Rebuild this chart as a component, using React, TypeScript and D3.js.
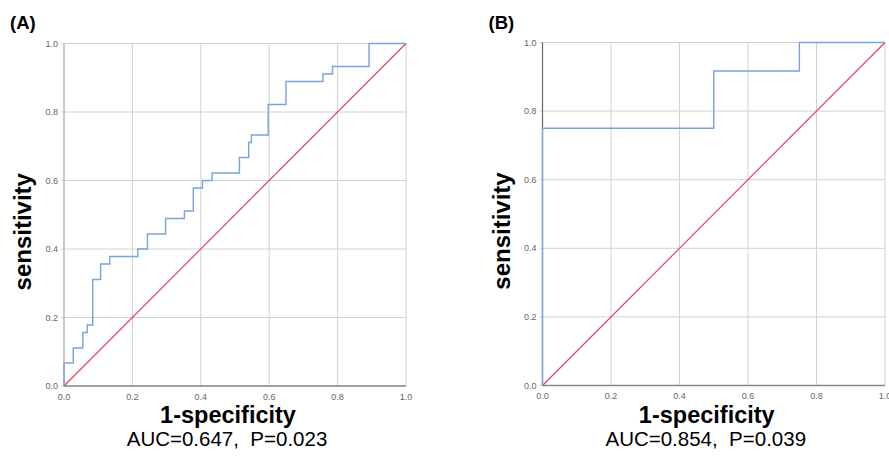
import React from 'react'
import { scaleLinear, line, curveStepBefore } from 'd3'

const width = 889
const height = 456

// ROC curve A: right end of each horizontal run (1-specificity) and its level (sensitivity)
const fprA = [0.027, 0.055, 0.068, 0.084, 0.107, 0.134, 0.216, 0.244, 0.297, 0.352, 0.378, 0.405, 0.433, 0.513, 0.540, 0.548, 0.597, 0.649, 0.757, 0.785, 0.892, 1.0]
const tprA = [0.067, 0.111, 0.156, 0.178, 0.311, 0.356, 0.378, 0.400, 0.444, 0.489, 0.511, 0.578, 0.600, 0.622, 0.667, 0.711, 0.733, 0.822, 0.889, 0.911, 0.933, 1.0]

// ROC curve B
const fprB = [0.5, 0.75, 1.0]
const tprB = [0.75, 0.917, 1.0]

const ticks = [0, 0.2, 0.4, 0.6, 0.8, 1.0]
const panelLabels = ['(A)', '(B)']
const aucLabels = ['AUC=0.647,  P=0.023', 'AUC=0.854,  P=0.039']
const xTitle = '1-specificity'
const yTitle = 'sensitivity'

const font = '"Liberation Sans", Arial, sans-serif'

const layouts = [
    { left: 64, right: 406, top: 43.5, bottom: 386, axisColor: '#b4b4b4' },
    { left: 542.5, right: 885, top: 42.5, bottom: 385.5, axisColor: '#666' },
]

function Panel({ idx, fpr, tpr }) {
    const L = layouts[idx]
    const x = scaleLinear().domain([0, 1]).range([L.left, L.right])
    const y = scaleLinear().domain([0, 1]).range([L.bottom, L.top])
    const pts = [[0, 0], ...fpr.map((f, i) => [f, tpr[i]])]
    // vertical move first, then horizontal - like the SPSS staircase
    const roc = line().x(d => x(d[0])).y(d => y(d[1])).curve(curveStepBefore)
    const diag = line().x(d => x(d[0])).y(d => y(d[1]))
    const cx = (L.left + L.right) / 2
    const cy = (L.top + L.bottom) / 2

    return (
        <g>
            <text x={L.left - 54} y={29} fontFamily={font} fontWeight="bold" fontSize={18.5}>
                {panelLabels[idx]}
            </text>
            {/* grid */}
            {ticks.map(t => (
                <line key={'gx' + t} x1={x(t)} x2={x(t)} y1={y(0)} y2={y(1)} stroke="#d2d2d2" strokeWidth={1} />
            ))}
            {ticks.map(t => (
                <line key={'gy' + t} x1={x(0) - 3} x2={x(1)} y1={y(t)} y2={y(t)} stroke="#d2d2d2" strokeWidth={1} />
            ))}
            {/* axes */}
            <line x1={x(0)} x2={x(0)} y1={y(0)} y2={y(1)} stroke={L.axisColor} strokeWidth={1.2} />
            <line x1={x(0)} x2={x(1)} y1={y(0)} y2={y(0)} stroke="#8a8a8a" strokeWidth={1.5} />
            {ticks.map(t => (
                <text key={'ty' + t} x={x(0) - 6} y={y(t)} dy="0.35em" textAnchor="end"
                    fontFamily={font} fontSize={9} fill="#666">{t.toFixed(1)}</text>
            ))}
            {ticks.map(t => (
                <text key={'tx' + t} x={x(t)} y={L.bottom + 13.5} textAnchor="middle"
                    fontFamily={font} fontSize={9} fill="#666">{t.toFixed(1)}</text>
            ))}
            {/* curves */}
            <path d={diag([[0, 0], [1, 1]])} fill="none" stroke="#e0446f" strokeWidth={1.2} />
            <path d={roc(pts)} fill="none" stroke="#78a3df" strokeWidth={1.4} />
            {/* titles */}
            <text x={cx - 7} y={L.bottom + 37} textAnchor="middle" fontFamily={font}
                fontWeight="bold" fontSize={23.5}>{xTitle}</text>
            <text x={cx - 8} y={L.bottom + 60} textAnchor="middle" fontFamily={font}
                fontSize={20.5} style={{ whiteSpace: 'pre' }}>{aucLabels[idx]}</text>
            <text transform={`translate(${L.left - 33},${cy + 17}) rotate(-90)`} textAnchor="middle"
                fontFamily={font} fontWeight="bold" fontSize={24}>{yTitle}</text>
        </g>
    )
}

export default function App() {
    return (
        <svg width={width} height={height} style={{ position: 'absolute', left: 0, top: 0, background: '#fff' }}>
            <rect width={width} height={height} fill="#fff" />
            <Panel idx={0} fpr={fprA} tpr={tprA} />
            <Panel idx={1} fpr={fprB} tpr={tprB} />
        </svg>
    )
}
